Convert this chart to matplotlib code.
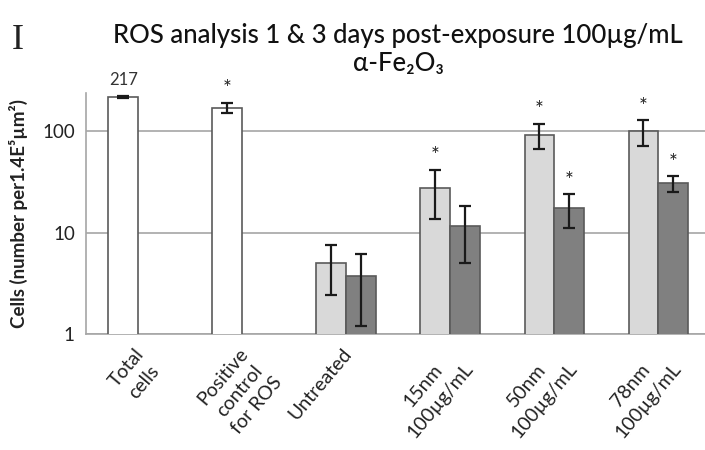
import numpy as np
import matplotlib.pyplot as plt

plt.rcParams['font.family'] = ['Lato', 'DejaVu Sans']

# data
categories = ['Total\ncells', 'Positive\ncontrol\nfor ROS', 'Untreated',
              '15nm\n100µg/mL', '50nm\n100µg/mL', '78nm\n100µg/mL']
day1 = [217, 170, 5.0, 27.5, 92, 100]
day1_err = [4, 20, 2.6, 14, 26, 28]
day3 = [0, 0, 3.7, 11.6, 17.5, 30.5]
day3_err = [0, 0, 2.5, 6.6, 6.5, 5.3]
day1_star = [False, True, False, True, True, True]
day3_star = [False, False, False, False, True, True]

x = np.arange(len(categories))
w = 0.285
edge = '#5a5a5a'

fig = plt.figure(figsize=(7.05, 4.5), dpi=100)
ax = fig.add_axes([0.122, 0.258, 0.878, 0.535])

light = ['white', 'white'] + ['#d9d9d9'] * 4
ax.bar(x - w / 2, day1, w, color=light, edgecolor=edge, linewidth=1.2, zorder=3)
ax.bar(x[2:] + w / 2, day3[2:], w, color='#808080', edgecolor=edge, linewidth=1.2, zorder=3)
ax.errorbar(x - w / 2, day1, yerr=day1_err, fmt='none', ecolor='#1a1a1a',
            elinewidth=1.6, capsize=4, capthick=1.6, zorder=4)
ax.errorbar(x[2:] + w / 2, day3[2:], yerr=day3_err[2:], fmt='none', ecolor='#1a1a1a',
            elinewidth=1.6, capsize=4, capthick=1.6, zorder=4)

for i in range(len(x)):
    if day1_star[i]:
        ax.text(x[i] - w / 2, (day1[i] + day1_err[i]) * 1.08, '*', ha='center',
                va='bottom', fontsize=15, color='#222222')
    if day3_star[i]:
        ax.text(x[i] + w / 2, (day3[i] + day3_err[i]) * 1.08, '*', ha='center',
                va='bottom', fontsize=15, color='#222222')

ax.text(x[0] - w / 2, 268, '217', ha='center', va='bottom', fontsize=12,
        color='#333333', clip_on=False)

ax.set_yscale('log')
ax.set_ylim(1, 237)
ax.set_xlim(-0.5, 5.45)
ax.set_yticks([1, 10, 100])
ax.set_yticklabels(['1', '10', '100'], fontsize=13.5, color='#222222')
ax.minorticks_off()
ax.yaxis.grid(True, color='#a6a6a6', linewidth=1.2, zorder=0)
ax.tick_params(axis='both', length=0, pad=8)
for s in ['top', 'right']:
    ax.spines[s].set_visible(False)
for s in ['left', 'bottom']:
    ax.spines[s].set_color('#a6a6a6')
    ax.spines[s].set_linewidth(1.2)

ax.set_xticks(x - 0.04)
ax.set_xticklabels(categories, rotation=50, ha='right', va='top', fontsize=14,
                   rotation_mode='anchor', multialignment='center', linespacing=1.4,
                   color='#222222')

ax.set_ylabel('Cells (number per1.4E⁵µm²)', fontsize=13.5, fontweight='bold', labelpad=10,
              color='#222222')

fig.text(0.565, 0.922, 'ROS analysis 1 & 3 days post-exposure 100µg/mL',
         ha='center', va='center', fontsize=18.5, color='#111111', fontweight='medium')
fig.text(0.565, 0.86, 'α-Fe₂O₃', ha='center', va='center', fontsize=18.5,
         color='#111111', fontweight='medium')
fig.text(0.025, 0.91, 'I', ha='center', va='center', fontsize=26,
         family='Liberation Serif', color='#222222')

fig.savefig('out.png', dpi=100)
